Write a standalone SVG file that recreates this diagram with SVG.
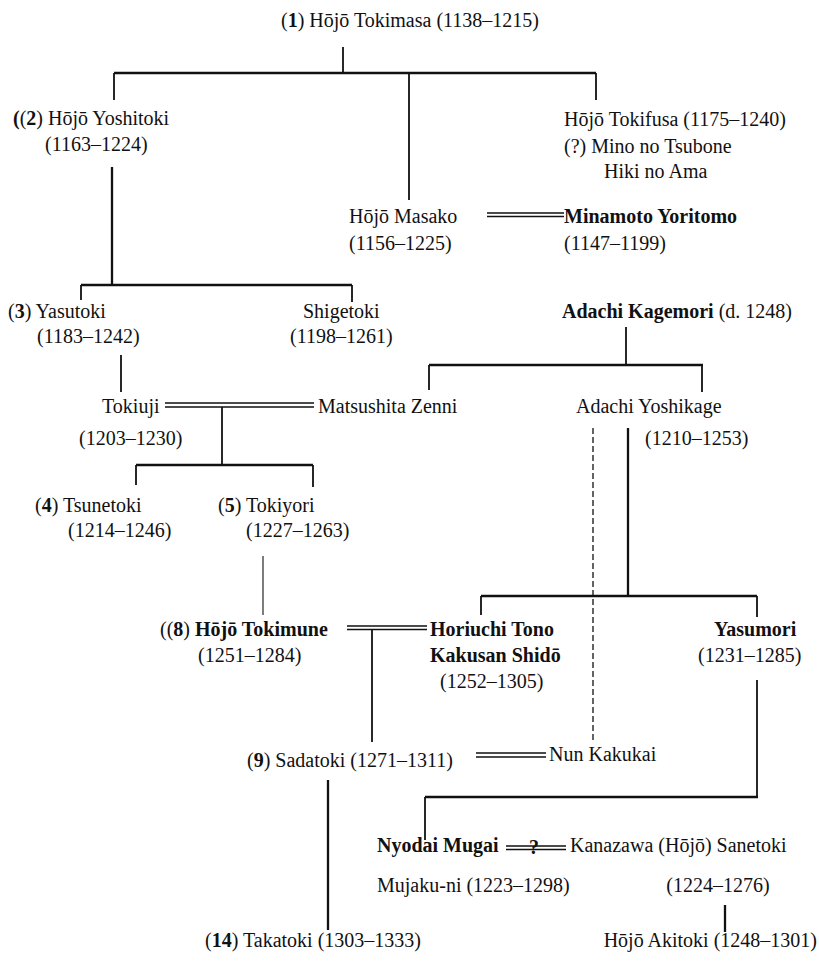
<svg xmlns="http://www.w3.org/2000/svg" width="819" height="964" viewBox="0 0 819 964">
<style>
text{font-family:"Liberation Serif","Times New Roman",serif;font-size:20px;fill:#111}
.b{font-weight:bold}
.ln{stroke:#111;stroke-width:1.8;fill:none}
.th{stroke:#111;stroke-width:2.3;fill:none}
.tn{stroke:#111;stroke-width:1.1;fill:none}
.dbl{stroke:#111;stroke-width:1.4;fill:none}
.dash{stroke:#111;stroke-width:1.3;fill:none;stroke-dasharray:6 3}
</style>
<rect width="819" height="964" fill="#fff"/>
<g id="connectors">
<path class="ln" d="M343 47V73"/>
<path class="th" d="M114 73H596"/>
<path class="ln" d="M114 73V100M409 73V200M596 73V100"/>
<path class="dbl" d="M487 213H564M487 216.5H564"/>
<path class="th" d="M112 167V285"/>
<path class="th" d="M81 285H352"/>
<path class="ln" d="M81 285V300M352 285V302"/>
<path class="ln" d="M626 327V365"/>
<path class="th" d="M429 365H703"/>
<path class="ln" d="M429 365V390M702 365V392"/>
<path class="ln" d="M121 355V392"/>
<path class="dbl" d="M165 403H314M165 407H314"/>
<path class="ln" d="M222 407V465"/>
<path class="th" d="M136 465H313"/>
<path class="ln" d="M136 465V485M313 465V487"/>
<path class="dash" d="M593 428V742"/>
<path class="th" d="M628 428V596"/>
<path class="tn" d="M263 556V615"/>
<path class="dbl" d="M347 626H427M347 629.5H427"/>
<path class="ln" d="M372 629V742"/>
<path class="th" d="M481 596H757"/>
<path class="ln" d="M481 596V615M757 596V617"/>
<path class="ln" d="M757 680V797"/>
<path class="th" d="M425 797H758"/>
<path class="ln" d="M425 797V840"/>
<path class="dbl" d="M476 753H546M476 757H546"/>
<path class="th" d="M328 780V930"/>
<path class="dbl" d="M506 846H566M506 849.5H566"/>
<text x="534" y="854" class="b" text-anchor="middle">?</text>
<path class="th" d="M725 905V932"/>
</g>
<g id="tokimasa"><text x="539" y="27" text-anchor="end">(<tspan class="b">1</tspan>) Hōjō Tokimasa (1138–1215)</text></g>
<g id="yoshitoki"><text x="13" y="125"><tspan class="b">(</tspan>(<tspan class="b">2</tspan>) Hōjō Yoshitoki</text><text x="45" y="151">(1163–1224)</text></g>
<g id="tokifusa"><text x="564" y="126">Hōjō Tokifusa (1175–1240)</text><text x="564" y="153">(?) Mino no Tsubone</text><text x="604" y="178">Hiki no Ama</text></g>
<g id="masako"><text x="349" y="223">Hōjō Masako</text><text x="349" y="250">(1156–1225)</text></g>
<g id="yoritomo"><text x="564" y="223" class="b">Minamoto Yoritomo</text><text x="564" y="250">(1147–1199)</text></g>
<g id="yasutoki"><text x="8" y="318">(<tspan class="b">3</tspan>) Yasutoki</text><text x="37" y="343">(1183–1242)</text></g>
<g id="shigetoki"><text x="303" y="318">Shigetoki</text><text x="290" y="343">(1198–1261)</text></g>
<g id="kagemori"><text x="562" y="318"><tspan class="b">Adachi Kagemori</tspan> (d. 1248)</text></g>
<g id="tokiuji"><text x="102" y="413">Tokiuji</text><text x="79" y="445">(1203–1230)</text></g>
<g id="matsushita"><text x="318" y="413">Matsushita Zenni</text></g>
<g id="yoshikage"><text x="576" y="413">Adachi Yoshikage</text><text x="645" y="445">(1210–1253)</text></g>
<g id="tsunetoki"><text x="35" y="512">(<tspan class="b">4</tspan>) Tsunetoki</text><text x="68" y="537">(1214–1246)</text></g>
<g id="tokiyori"><text x="218" y="512">(<tspan class="b">5</tspan>) Tokiyori</text><text x="246" y="537">(1227–1263)</text></g>
<g id="tokimune"><text x="160" y="636">((<tspan class="b">8</tspan>) <tspan class="b">Hōjō Tokimune</tspan></text><text x="198" y="662">(1251–1284)</text></g>
<g id="horiuchi"><text x="430" y="636" class="b">Horiuchi Tono</text><text x="430" y="662" class="b">Kakusan Shidō</text><text x="440" y="688">(1252–1305)</text></g>
<g id="yasumori"><text x="714" y="636" class="b">Yasumori</text><text x="698" y="662">(1231–1285)</text></g>
<g id="sadatoki"><text x="247" y="767">(<tspan class="b">9</tspan>) Sadatoki (1271–1311)</text></g>
<g id="kakukai"><text x="549" y="761">Nun Kakukai</text></g>
<g id="mugai"><text x="377" y="852" class="b">Nyodai Mugai</text><text x="377" y="892">Mujaku-ni (1223–1298)</text></g>
<g id="sanetoki"><text x="570" y="852">Kanazawa (Hōjō) Sanetoki</text><text x="718" y="892" text-anchor="middle">(1224–1276)</text></g>
<g id="takatoki"><text x="205" y="947">(<tspan class="b">14</tspan>) Takatoki (1303–1333)</text></g>
<g id="akitoki"><text x="817" y="947" text-anchor="end">Hōjō Akitoki (1248–1301)</text></g>
</svg>
